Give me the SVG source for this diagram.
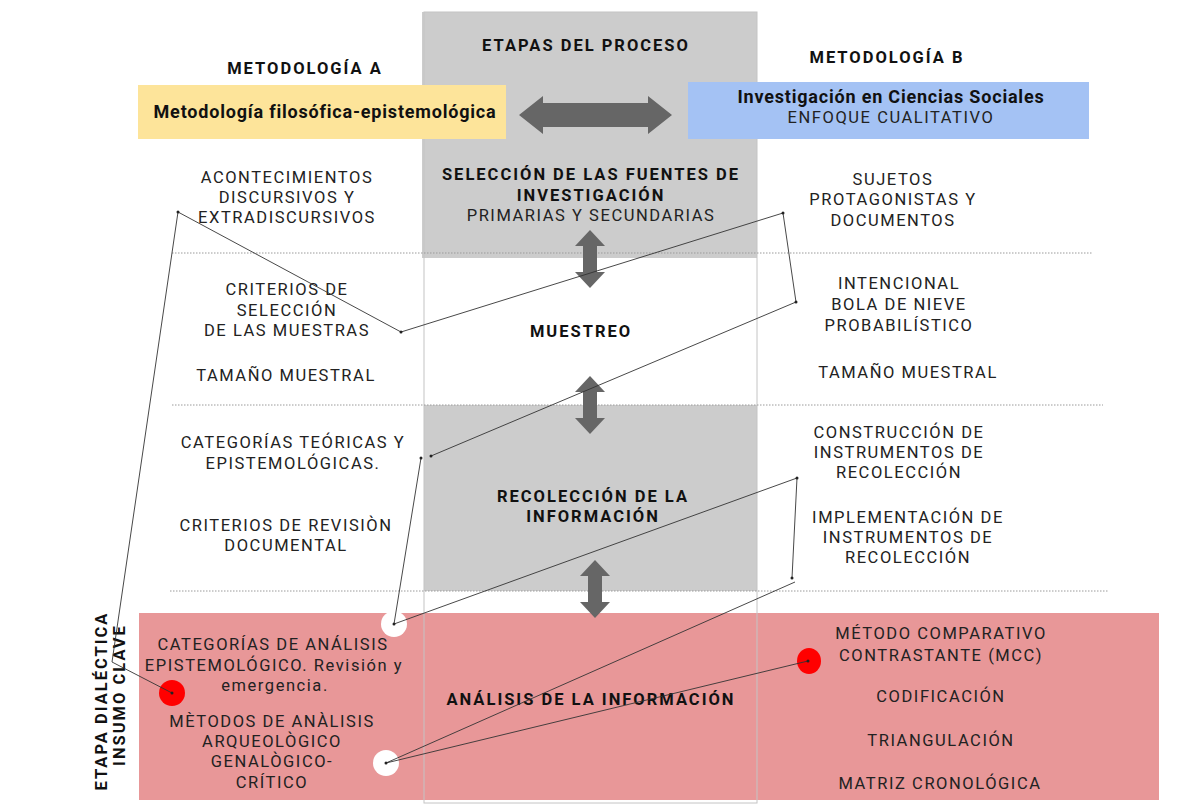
<svg xmlns="http://www.w3.org/2000/svg" width="1202" height="807" viewBox="0 0 1202 807">
<style>
text{font-family:Roboto,"Open Sans",sans-serif;font-size:16.5px;fill:#222;text-anchor:middle;letter-spacing:1.55px}
.b{font-weight:700;fill:#111;letter-spacing:2px}
.m{font-size:18px;letter-spacing:0.8px}
.dot{fill:#222}
.conn{fill:none;stroke:#333;stroke-width:0.9}
.arrow{fill:#666}
.dotted{stroke:#9a9a9a;stroke-width:1;stroke-dasharray:1.5 1.5}
</style>
<rect width="1202" height="807" fill="#fff"/>
<g id="stage-bands">
<rect x="422" y="12" width="335" height="246" fill="#cccccc"/>
<rect x="424" y="405" width="333" height="186" fill="#cccccc"/>
<rect x="139" y="613" width="1020" height="187" fill="#e89798"/>
<rect x="424" y="12" width="333" height="791" fill="none" stroke="#c4c4c4" stroke-width="1"/>
</g>
<g id="dividers">
<line class="dotted" x1="172" y1="253" x2="1093" y2="253"/>
<line class="dotted" x1="172" y1="405" x2="1103" y2="405"/>
<line class="dotted" x1="170" y1="591" x2="1108" y2="591"/>
</g>
<g id="header">
<text class="b" x="586" y="51">ETAPAS DEL PROCESO</text>
</g>
<g id="metodologia-a">
<text class="b" x="305" y="74">METODOLOGÍA A</text>
<rect x="138" y="85" width="368" height="54" fill="#fde49a"/>
<text class="b m" x="325" y="118">Metodología filosófica-epistemológica</text>
</g>
<g id="metodologia-b">
<text class="b" x="887" y="63">METODOLOGÍA B</text>
<rect x="688" y="82" width="401" height="57" fill="#a4c2f4"/>
<text class="b m" x="891" y="103">Investigación en Ciencias Sociales</text>
<text x="891" y="123">ENFOQUE CUALITATIVO</text>
</g>
<g id="arrows">
<path class="arrow" d="M519,115 L543,96 L543,103 L648,103 L648,96 L672,115 L648,134 L648,127 L543,127 L543,134 Z"/>
<path class="arrow" d="M590,230 L605,246 L597,246 L597,272 L605,272 L590,288 L575,272 L583,272 L583,246 L575,246 Z"/>
<path class="arrow" d="M590,376 L605,392 L597,392 L597,418 L605,418 L590,434 L575,418 L583,418 L583,392 L575,392 Z"/>
<path class="arrow" d="M595,560 L610,576 L602,576 L602,602 L610,602 L595,618 L580,602 L588,602 L588,576 L580,576 Z"/>
</g>
<g id="seleccion">
<text class="b" x="591" y="180">SELECCIÓN DE LAS FUENTES DE</text>
<text class="b" x="591" y="201">INVESTIGACIÓN</text>
<text x="591" y="221">PRIMARIAS Y SECUNDARIAS</text>
</g>
<g id="seleccion-a">
<text x="287" y="183">ACONTECIMIENTOS</text>
<text x="287" y="203">DISCURSIVOS Y</text>
<text x="287" y="223">EXTRADISCURSIVOS</text>
</g>
<g id="seleccion-b">
<text x="893" y="185">SUJETOS</text>
<text x="893" y="205">PROTAGONISTAS Y</text>
<text x="893" y="226">DOCUMENTOS</text>
</g>
<g id="muestreo">
<text class="b" x="581" y="337">MUESTREO</text>
</g>
<g id="muestreo-a">
<text x="287" y="295">CRITERIOS DE</text>
<text x="287" y="316">SELECCIÓN</text>
<text x="287" y="336">DE LAS MUESTRAS</text>
<text x="286" y="381">TAMAÑO MUESTRAL</text>
</g>
<g id="muestreo-b">
<text x="899" y="289">INTENCIONAL</text>
<text x="899" y="310">BOLA DE NIEVE</text>
<text x="899" y="331">PROBABILÍSTICO</text>
<text x="908" y="378">TAMAÑO MUESTRAL</text>
</g>
<g id="recoleccion">
<text class="b" x="593" y="502">RECOLECCIÓN DE LA</text>
<text class="b" x="593" y="522">INFORMACIÓN</text>
</g>
<g id="recoleccion-a">
<text x="293" y="448">CATEGORÍAS TEÓRICAS Y</text>
<text x="293" y="469">EPISTEMOLÓGICAS.</text>
<text x="286" y="531">CRITERIOS DE REVISIÒN</text>
<text x="286" y="551">DOCUMENTAL</text>
</g>
<g id="recoleccion-b">
<text x="899" y="438">CONSTRUCCIÓN DE</text>
<text x="899" y="458">INSTRUMENTOS DE</text>
<text x="899" y="478">RECOLECCIÓN</text>
<text x="908" y="523">IMPLEMENTACIÓN DE</text>
<text x="908" y="543">INSTRUMENTOS DE</text>
<text x="908" y="563">RECOLECCIÓN</text>
</g>
<g id="analisis">
<text class="b" x="591" y="705">ANÁLISIS DE LA INFORMACIÓN</text>
</g>
<g id="analisis-a">
<text x="273" y="650">CATEGORÍAS DE ANÁLISIS</text>
<text x="274" y="671">EPISTEMOLÓGICO. Revisión y</text>
<text x="275" y="691">emergencia.</text>
<text x="272" y="727">MÈTODOS DE ANÀLISIS</text>
<text x="272" y="747">ARQUEOLÒGICO</text>
<text x="272" y="767">GENALÒGICO-</text>
<text x="272" y="788">CRÍTICO</text>
</g>
<g id="analisis-b">
<text x="941" y="639">MÉTODO COMPARATIVO</text>
<text x="941" y="661">CONTRASTANTE (MCC)</text>
<text x="941" y="702">CODIFICACIÓN</text>
<text x="941" y="746">TRIANGULACIÓN</text>
<text x="940" y="789">MATRIZ CRONOLÓGICA</text>
</g>
<g id="markers">
<circle cx="394" cy="624" r="13" fill="#fff"/>
<circle cx="386" cy="763" r="13" fill="#fff"/>
<circle cx="172" cy="693" r="13" fill="#f00"/>
<ellipse cx="809" cy="661" rx="12" ry="13" fill="#f00"/>
</g>
<g id="etapa-dialectica">
<text class="b" transform="translate(107,701) rotate(-90)">ETAPA DIALÉCTICA</text>
<text class="b" transform="translate(125,695) rotate(-90)">INSUMO CLAVE</text>
</g>
<g id="connectors">
<polyline class="conn" points="401,332 178,212 112,662 172,693"/>
<polyline class="conn" points="401,332 783,213 796,302 431,456"/>
<polyline class="conn" points="421,458 394,624 797,478 792,578"/>
<polyline class="conn" points="795,582 386,763 808,661"/>
<circle class="dot" cx="178" cy="212" r="1.5"/>
<circle class="dot" cx="401" cy="332" r="1.5"/>
<circle class="dot" cx="783" cy="213" r="1.5"/>
<circle class="dot" cx="796" cy="302" r="1.5"/>
<circle class="dot" cx="431" cy="456" r="1.5"/>
<circle class="dot" cx="421" cy="458" r="1.5"/>
<circle class="dot" cx="394" cy="624" r="1.5"/>
<circle class="dot" cx="797" cy="478" r="1.5"/>
<circle class="dot" cx="792" cy="578" r="1.5"/>
<circle class="dot" cx="386" cy="763" r="1.5"/>
<circle class="dot" cx="808" cy="661" r="1.5"/>
<circle class="dot" cx="172" cy="693" r="1.5"/>
</g>
</svg>
